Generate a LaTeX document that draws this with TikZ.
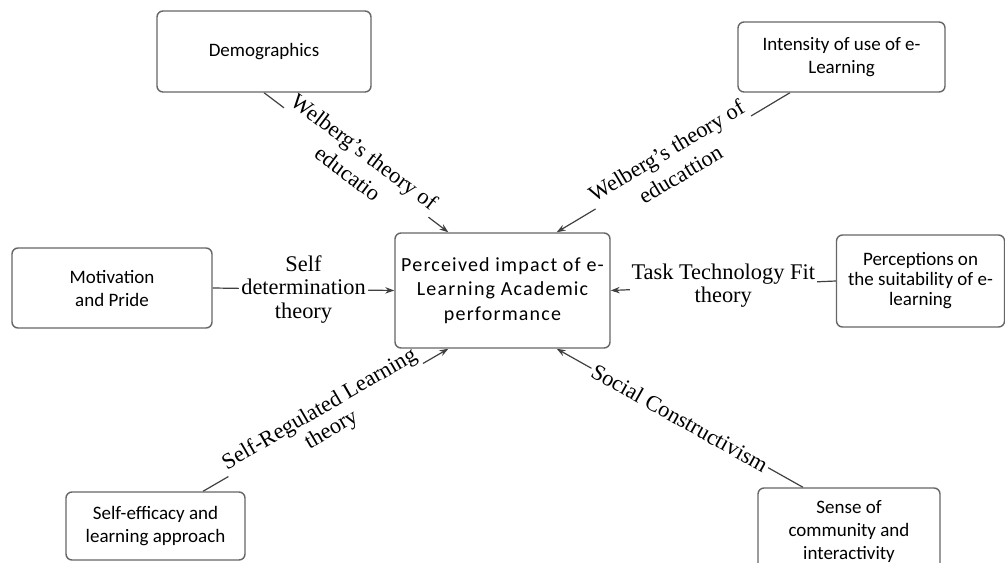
\documentclass[tikz,border=0pt]{standalone}
\usepackage{fontspec}
\setmainfont{Liberation Serif}
\newfontfamily\boxfont{Carlito}
\newfontfamily\corefont{Carlito}[LetterSpace=6]
\usetikzlibrary{arrows.meta, calc, backgrounds}

\begin{document}
\begin{tikzpicture}[
    x=0.5pt, y=-0.5pt,
    >=Stealth,
    factor/.style={draw=black!60, line width=0.7pt, rounded corners=3pt, fill=white, align=center, inner sep=1pt, font=\boxfont\fontsize{9.5}{11.5}\selectfont},
    core/.style={factor, minimum width=107.5pt, minimum height=57.5pt, font=\corefont\fontsize{10}{12.2}\selectfont},
    link/.style={draw=black!75, line width=0.6pt, -{Stealth[length=4.5pt, width=3.2pt]}},
    theory/.style={font=\fontsize{11.2}{11.8}\selectfont, align=center, fill=white, inner sep=1pt},
    wide/.style={font=\fontsize{11.2}{13.6}\selectfont}
]
\useasboundingbox (0,0) rectangle (1005,562);
\clip (0,0) rectangle (1005,562);

\node[factor, minimum width=107pt, minimum height=40.5pt] (demo) at (264,51.5) {Demographics};
\node[factor, minimum width=103.5pt, minimum height=35pt] (use) at (841.5,57) {Intensity of use of e-\\Learning};
\node[factor, minimum width=100pt, minimum height=40pt] (motiv) at (112,288) {Motivation\\and Pride};
\node[core] (impact) at (502.5,290.5) {Perceived impact of e-\\Learning Academic\\performance};
\node[factor, minimum width=84pt, minimum height=46pt, font=\boxfont\fontsize{9.5}{10}\selectfont] (suit) at (920.5,281) {Perceptions on\\the suitability of e-\\learning};
\node[factor, minimum width=89.5pt, minimum height=34pt] (effic) at (155.5,526) {Self-efficacy and\\learning approach};
\node[factor, minimum width=91pt, minimum height=43.5pt] (comm) at (849,531.5) {Sense of\\community and\\interactivity};

\begin{scope}[on background layer]
\draw[link] (demo.south) -- node[theory, wide, sloped] {Welberg's theory of\\educatio} ($(impact.north west)!.25!(impact.north east)$);
\draw[link] ([xshift=-25.75pt]use.south) -- node[theory, wide, sloped] {Welberg's theory of\\educattion} ($(impact.north west)!.75!(impact.north east)$);
\draw[link] (motiv.east) -- node[theory] {Self\\determination\\theory} (impact.west);
\draw[link] (suit.west) -- node[theory] {Task Technology Fit\\theory} (impact.east);
\draw[link] ([xshift=23.75pt]effic.north) -- node[theory, sloped] {Self-Regulated Learning\\theory} ($(impact.south west)!.25!(impact.south east)$);
\draw[link] ([xshift=-23pt]comm.north) -- node[theory, sloped] {Social Constructivism} ($(impact.south west)!.75!(impact.south east)$);
\end{scope}

\end{tikzpicture}
\end{document}
